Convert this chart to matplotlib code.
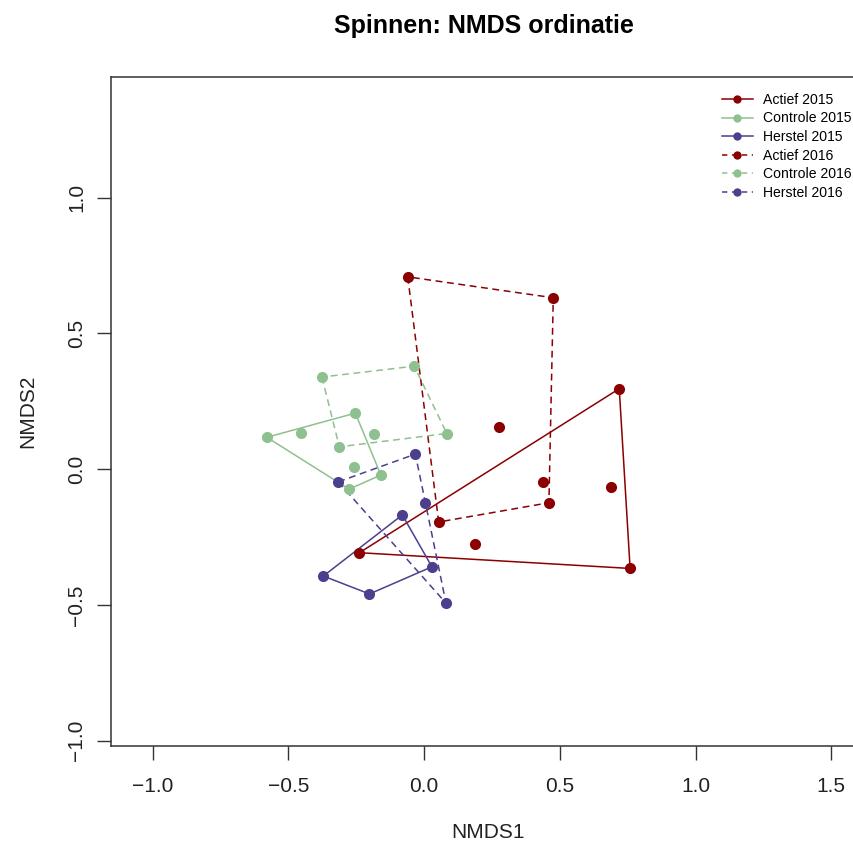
import matplotlib
matplotlib.use("Agg")
import matplotlib.pyplot as plt
from matplotlib.lines import Line2D

plt.rcParams['font.family'] = ['Liberation Sans', 'DejaVu Sans']

# NMDS site scores per treatment and year
actief_2015_x = [-0.238, 0.719, 0.759, 0.688, 0.189, 0.439]
actief_2015_y = [-0.308, 0.296, -0.366, -0.066, -0.276, -0.046]

controle_2015_x = [-0.579, -0.454, -0.253, -0.159, -0.276, -0.257]
controle_2015_y = [0.117, 0.134, 0.206, -0.022, -0.074, 0.008]

herstel_2015_x = [-0.080, 0.029, -0.201, -0.371]
herstel_2015_y = [-0.169, -0.360, -0.460, -0.394]

actief_2016_x = [-0.060, 0.476, 0.276, 0.460, 0.054]
actief_2016_y = [0.708, 0.631, 0.155, -0.124, -0.195]

controle_2016_x = [-0.376, -0.036, 0.084, -0.312, -0.183]
controle_2016_y = [0.339, 0.379, 0.131, 0.082, 0.131]

herstel_2016_x = [-0.032, -0.316, 0.005, 0.081]
herstel_2016_y = [0.055, -0.047, -0.124, -0.494]

group_labels = ["Actief 2015", "Controle 2015", "Herstel 2015",
                "Actief 2016", "Controle 2016", "Herstel 2016"]
x_ticks = [-1.0, -0.5, 0.0, 0.5, 1.0, 1.5]
y_ticks = [-1.0, -0.5, 0.0, 0.5, 1.0]

RED = "#8B0000"
GREEN = "#8FC08F"
BLUE = "#4B3F8E"
DASH = (0, (4.5, 3.0))

groups = [
    (actief_2015_x, actief_2015_y, RED, "-"),
    (controle_2015_x, controle_2015_y, GREEN, "-"),
    (herstel_2015_x, herstel_2015_y, BLUE, "-"),
    (actief_2016_x, actief_2016_y, RED, DASH),
    (controle_2016_x, controle_2016_y, GREEN, DASH),
    (herstel_2016_x, herstel_2016_y, BLUE, DASH),
]


def convex_hull(xs, ys):
    pts = sorted(set(zip(xs, ys)))
    if len(pts) <= 2:
        return pts

    def cross(o, a, b):
        return (a[0] - o[0]) * (b[1] - o[1]) - (a[1] - o[1]) * (b[0] - o[0])

    lower = []
    for p in pts:
        while len(lower) >= 2 and cross(lower[-2], lower[-1], p) <= 0:
            lower.pop()
        lower.append(p)
    upper = []
    for p in reversed(pts):
        while len(upper) >= 2 and cross(upper[-2], upper[-1], p) <= 0:
            upper.pop()
        upper.append(p)
    return lower[:-1] + upper[:-1]


fig = plt.figure(figsize=(8.54, 8.49), dpi=100)
W, H = 854, 849
px_per_unit = 271.5
left_px, right_px, top_px, bottom_px = 111, 865, 77, 746
x0 = -1.153
x1 = x0 + (right_px - left_px) / px_per_unit
y0 = -1.020
y1 = y0 + (bottom_px - top_px) / px_per_unit

ax = fig.add_axes([left_px / W, 1 - bottom_px / H,
                   (right_px - left_px) / W, (bottom_px - top_px) / H])
ax.set_xlim(x0, x1)
ax.set_ylim(y0, y1)

# convex hulls around each group
for xs, ys, col, ls in groups:
    hull = convex_hull(xs, ys)
    hx = [p[0] for p in hull] + [hull[0][0]]
    hy = [p[1] for p in hull] + [hull[0][1]]
    ax.plot(hx, hy, color=col, linestyle=ls, linewidth=1.1, zorder=2)

# site points (green and blue first, red on top)
for idx in [1, 4, 2, 5, 0, 3]:
    xs, ys, col, ls = groups[idx]
    ax.plot(xs, ys, linestyle="none", marker="o", markersize=8,
            color=col, markeredgewidth=0, zorder=3)

for sp in ax.spines.values():
    sp.set_color("#333333")
    sp.set_linewidth(1.1)

ax.set_xticks(x_ticks)
ax.set_xticklabels([f"{v:.1f}".replace("-", "\u2212") for v in x_ticks])
ax.set_yticks(y_ticks)
ax.set_yticklabels([f"{v:.1f}".replace("-", "\u2212") for v in y_ticks],
                   rotation=90, va="center")
ax.tick_params(axis="both", direction="out", length=10, width=1.0,
               color="#333333", labelsize=15, labelcolor="#222222")
ax.tick_params(axis="x", pad=12)
ax.tick_params(axis="y", pad=8)

fig.text((left_px + right_px) / 2 / W, 1 - 832 / H, "NMDS1",
         ha="center", va="center", fontsize=15, color="#222222")
fig.text(28 / W, 1 - (top_px + bottom_px) / 2 / H, "NMDS2",
         ha="center", va="center", rotation=90, fontsize=15, color="#222222")
fig.text(484 / W, 1 - 26 / H, "Spinnen: NMDS ordinatie",
         ha="center", va="center", fontsize=18, fontweight="bold")

handles = []
for xs, ys, col, ls in groups:
    handles.append(Line2D([0], [0], color=col, linestyle=ls if ls == "-" else (0, (3.5, 3.0)),
                          linewidth=1.1, marker="o", markersize=6,
                          markeredgewidth=0))
fig.legend(handles, group_labels, loc="upper left",
           bbox_to_anchor=(712 / W, 1 - 83 / H), frameon=False,
           fontsize=10.1, handlelength=2.2, handletextpad=0.75,
           labelspacing=0.33, borderpad=0.2)

fig.savefig("out.png", dpi=100)
